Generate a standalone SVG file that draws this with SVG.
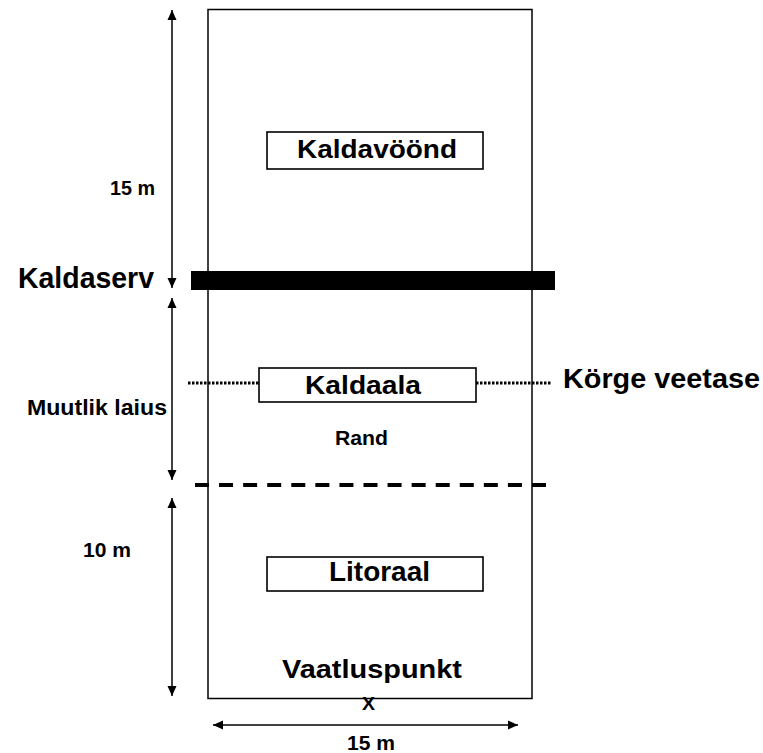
<svg xmlns="http://www.w3.org/2000/svg" width="763" height="753" viewBox="0 0 763 753">
  <style>
    .t { font-family: "Liberation Sans", Arial, sans-serif; font-weight: bold; fill: #000; }
    .box { fill: #fff; stroke: #000; stroke-width: 1.6; }
    .dim { stroke: #000; stroke-width: 1.5; fill: none; marker-start: url(#ah); marker-end: url(#ah); }
    .dot { stroke: #000; stroke-width: 3; stroke-dasharray: 2.5 1.5; }
  </style>
  <defs>
    <marker id="ah" viewBox="0 0 10 10" refX="10" refY="5" markerWidth="10" markerHeight="10" markerUnits="userSpaceOnUse" orient="auto-start-reverse">
      <path d="M0,0.5 L10,5 L0,9.5 Z" fill="#000"/>
    </marker>
  </defs>
  <rect width="763" height="753" fill="#fff"/>

  <!-- study area outline -->
  <g id="area">
    <rect x="208" y="9.5" width="324" height="689" fill="none" stroke="#000" stroke-width="1.5"/>
  </g>

  <g id="connectors">
    <!-- vertical dimensions -->
    <line class="dim" x1="172" y1="10" x2="172" y2="288"/>
    <line class="dim" x1="172" y1="298" x2="172" y2="480"/>
    <line class="dim" x1="172" y1="498" x2="172" y2="696"/>
    <!-- horizontal dimension -->
    <line class="dim" x1="213" y1="725" x2="518" y2="725"/>
    <!-- bank edge -->
    <rect x="191" y="271" width="364" height="19" fill="#000"/>
    <!-- water edge -->
    <line x1="195" y1="485" x2="546" y2="485" stroke="#000" stroke-width="4" stroke-dasharray="14 10.07"/>
    <!-- high water level -->
    <line class="dot" x1="188" y1="383" x2="259" y2="383"/>
    <line class="dot" x1="476" y1="383" x2="552" y2="383"/>
  </g>

  <g id="kaldavoond">
    <rect class="box" x="267" y="132" width="216" height="37"/>
    <text class="t" x="297" y="158" font-size="26" textLength="160" lengthAdjust="spacingAndGlyphs">Kaldavöönd</text>
  </g>

  <g id="kaldaserv">
    <text class="t" x="18" y="288" font-size="29" textLength="136" lengthAdjust="spacingAndGlyphs">Kaldaserv</text>
  </g>

  <g id="kaldaala">
    <rect class="box" x="259" y="368" width="217" height="34"/>
    <text class="t" x="305" y="394" font-size="26" textLength="116" lengthAdjust="spacingAndGlyphs">Kaldaala</text>
  </g>

  <g id="korge-veetase">
    <text class="t" x="563" y="388" font-size="27" textLength="197" lengthAdjust="spacingAndGlyphs">Körge veetase</text>
  </g>

  <g id="rand">
    <text class="t" x="335" y="445" font-size="20" textLength="53" lengthAdjust="spacingAndGlyphs">Rand</text>
  </g>

  <g id="muutlik-laius">
    <text class="t" x="27" y="415" font-size="22" textLength="140" lengthAdjust="spacingAndGlyphs">Muutlik laius</text>
  </g>

  <g id="litoraal">
    <rect class="box" x="267" y="557" width="216" height="34"/>
    <text class="t" x="329" y="581" font-size="27" textLength="101" lengthAdjust="spacingAndGlyphs">Litoraal</text>
  </g>

  <g id="vaatluspunkt">
    <text class="t" x="282" y="678" font-size="26" textLength="180" lengthAdjust="spacingAndGlyphs">Vaatluspunkt</text>
    <text class="t" x="362" y="710" font-size="18" textLength="13" lengthAdjust="spacingAndGlyphs">X</text>
  </g>

  <g id="labels">
    <text class="t" x="110" y="195" font-size="20" textLength="45" lengthAdjust="spacingAndGlyphs">15 m</text>
    <text class="t" x="83" y="557" font-size="20" textLength="48" lengthAdjust="spacingAndGlyphs">10 m</text>
    <text class="t" x="347" y="750" font-size="20" textLength="48" lengthAdjust="spacingAndGlyphs">15 m</text>
  </g>
</svg>
